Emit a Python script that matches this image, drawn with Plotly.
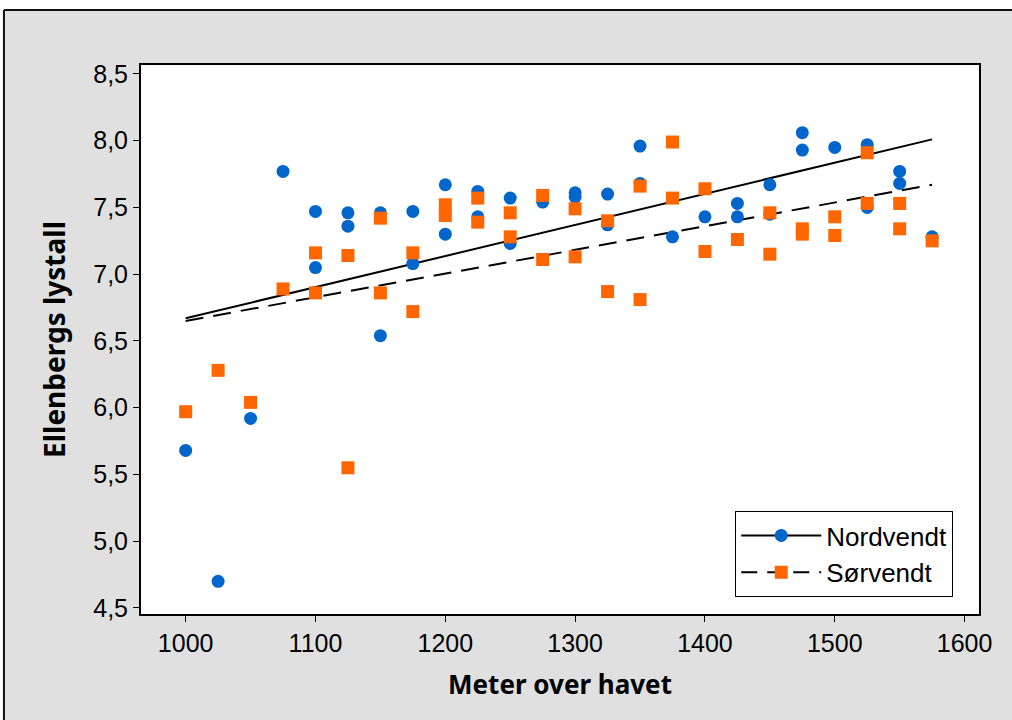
import plotly.graph_objects as go

# --- data ---
nord_x = [1000, 1025, 1050, 1075, 1100, 1100, 1125, 1125, 1150, 1150, 1175, 1175,
          1200, 1200, 1225, 1225, 1250, 1250, 1275, 1300, 1300, 1325, 1325,
          1350, 1350, 1375, 1400, 1425, 1425, 1450, 1450, 1475, 1475, 1500,
          1525, 1525, 1550, 1550, 1575]
nord_y = [5.68, 4.70, 5.92, 7.77, 7.47, 7.05, 7.46, 7.36, 7.46, 6.54, 7.47, 7.08,
          7.67, 7.30, 7.62, 7.43, 7.57, 7.23, 7.54, 7.61, 7.58, 7.60, 7.37,
          7.96, 7.68, 7.28, 7.43, 7.53, 7.43, 7.67, 7.45, 8.06, 7.93, 7.95,
          7.97, 7.50, 7.77, 7.68, 7.28]

sor_x = [1000, 1025, 1050, 1075, 1100, 1100, 1125, 1125, 1150, 1150, 1175, 1175,
         1200, 1200, 1225, 1225, 1250, 1250, 1275, 1275, 1300, 1300, 1325, 1325,
         1350, 1350, 1375, 1375, 1400, 1400, 1425, 1450, 1450, 1475, 1475,
         1500, 1500, 1525, 1525, 1550, 1550, 1575]
sor_y = [5.97, 6.28, 6.04, 6.89, 7.16, 6.86, 7.14, 5.55, 7.42, 6.86, 7.16, 6.72,
         7.52, 7.44, 7.57, 7.39, 7.46, 7.28, 7.59, 7.11, 7.49, 7.13, 7.40, 6.87,
         7.66, 6.81, 7.99, 7.57, 7.64, 7.17, 7.26, 7.46, 7.15, 7.34, 7.30,
         7.43, 7.29, 7.91, 7.53, 7.53, 7.34, 7.25]

fit_x = [1000, 1575]
fit_nord = [6.67, 8.01]
fit_sor = [6.65, 7.67]

series_names = ["Nordvendt", "Sørvendt"]
x_ticks = [1000, 1100, 1200, 1300, 1400, 1500, 1600]
y_ticks = [4.5, 5.0, 5.5, 6.0, 6.5, 7.0, 7.5, 8.0, 8.5]

BLUE = "#0066CC"
ORANGE = "#FF6600"
TICKFONT = dict(family="Liberation Sans, Arial, sans-serif", size=25, color="black")
XTITLEFONT = dict(family="Noto Sans, sans-serif", size=26, color="black", weight="bold")
YTITLEFONT = dict(family="Noto Sans, sans-serif", size=28, color="black", weight="bold")

fig = go.Figure()

# fit lines
fig.add_trace(go.Scatter(x=fit_x, y=fit_nord, mode="lines",
                         line=dict(color="black", width=2), showlegend=False,
                         hoverinfo="skip"))
fig.add_trace(go.Scatter(x=fit_x, y=fit_sor, mode="lines",
                         line=dict(color="black", width=2, dash="18px,10px"),
                         showlegend=False, hoverinfo="skip"))
# points
fig.add_trace(go.Scatter(x=nord_x, y=nord_y, mode="markers", showlegend=False,
                         marker=dict(color=BLUE, size=13, symbol="circle")))
fig.add_trace(go.Scatter(x=sor_x, y=sor_y, mode="markers", showlegend=False,
                         marker=dict(color=ORANGE, size=13, symbol="square")))
# legend entries
fig.add_trace(go.Scatter(x=[None], y=[None], mode="lines+markers", name=series_names[0],
                         legendgroup="a",
                         line=dict(color="black", width=2),
                         marker=dict(color=BLUE, size=13, symbol="circle")))
fig.add_trace(go.Scatter(x=[None], y=[None], mode="lines+markers", name=series_names[1],
                         legendgroup="b",
                         line=dict(color="black", width=2, dash="16px,10px"),
                         marker=dict(color=ORANGE, size=13, symbol="square")))

W = 978.7 - 141
H = 614 - 65
def px(xp):
    return (xp - 141) / W
def py(yp):
    return (614 - yp) / H

shapes = [
    # white strips outside the outer frame
    dict(type="rect", xref="paper", yref="paper", x0=px(-5), x1=px(1020),
         y0=py(10), y1=py(-5), fillcolor="white", line=dict(width=0), layer="below"),
    dict(type="rect", xref="paper", yref="paper", x0=px(-5), x1=px(4),
         y0=py(730), y1=py(10), fillcolor="white", line=dict(width=0), layer="below"),
    # outer frame lines
    dict(type="line", xref="paper", yref="paper", x0=px(4), x1=px(1020),
         y0=py(10), y1=py(10), line=dict(color="#111111", width=2)),
    dict(type="line", xref="paper", yref="paper", x0=px(4), x1=px(4),
         y0=py(10), y1=py(730), line=dict(color="#111111", width=2)),
]

fig.update_layout(
    width=1012, height=720,
    margin=dict(l=141, r=33.3, t=65, b=106),
    paper_bgcolor="#E0E0E0",
    plot_bgcolor="white",
    separators=", ",
    shapes=shapes,
    showlegend=True,
    legend=dict(
        x=px(844), xanchor="center", y=py(597), yanchor="bottom",
        bgcolor="white", bordercolor="black", borderwidth=1,
        font=dict(family="Liberation Sans, Arial, sans-serif", size=26, color="black"),
        itemwidth=80, traceorder="grouped", tracegroupgap=0,
    ),
    xaxis=dict(
        range=[965.6, 1611.1], tickvals=x_ticks, ticks="outside", ticklen=6,
        tickwidth=1, tickcolor="black", showgrid=False, zeroline=False,
        showline=True, linecolor="black", linewidth=2, mirror=True,
        tickfont=TICKFONT,
        title=dict(text="Meter over havet", font=XTITLEFONT, standoff=20),
    ),
    yaxis=dict(
        range=[4.455, 8.567], tickvals=y_ticks, tickformat=".1f", ticks="outside",
        ticklen=6, tickwidth=1, tickcolor="black", showgrid=False, zeroline=False,
        showline=True, linecolor="black", linewidth=2, mirror=True,
        tickfont=TICKFONT,
        title=dict(text="Ellenbergs lystall", font=YTITLEFONT, standoff=19),
    ),
)

fig.write_html("out.html")
